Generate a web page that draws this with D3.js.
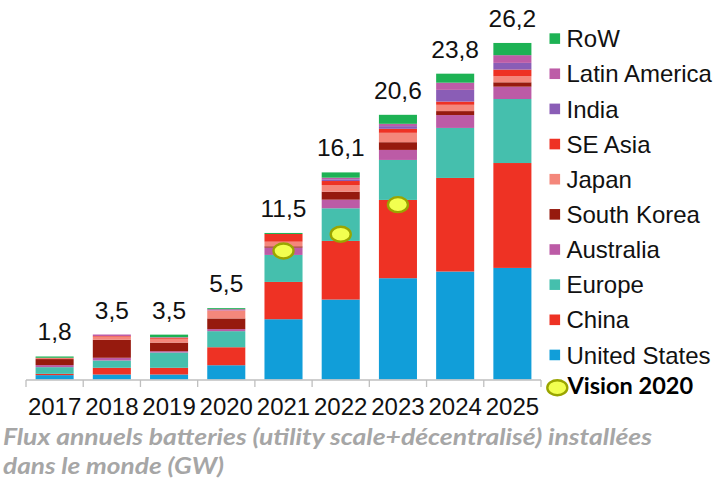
<!DOCTYPE html>
<html><head><meta charset="utf-8">
<script src="https://cdn.jsdelivr.net/npm/d3@7"></script>
<style>body{margin:0;background:#fff;}svg{display:block;}</style>
</head><body>
<svg id="chart" width="727" height="483"></svg>
<script>
const years = ["2017","2018","2019","2020","2021","2022","2023","2024","2025"];
const seriesNames = ["United States","China","Europe","Australia","South Korea","Japan","SE Asia","India","Latin America","RoW"];
const unitedStates = [0.34,0.39,0.39,1.11,4.69,6.22,7.88,8.40,8.68];
const china        = [0.10,0.52,0.52,1.40,2.90,4.56,6.09,7.28,8.16];
const europe       = [0.52,0.57,1.19,1.25,2.10,2.54,3.11,3.89,4.98];
const australia    = [0.16,0.21,0.10,0.16,0.57,0.67,0.78,1.00,0.96];
const southKorea   = [0.47,1.40,0.67,0.83,0.10,0.62,0.60,0.31,0.34];
const japan        = [0.05,0.24,0.30,0.62,0.36,0.52,0.73,0.49,0.47];
const seAsia       = [0.05,0.05,0.08,0.00,0.60,0.31,0.31,0.25,0.52];
const india        = [0.00,0.00,0.00,0.00,0.00,0.13,0.21,0.91,0.52];
const latinAmerica = [0.00,0.12,0.04,0.10,0.00,0.13,0.18,0.56,0.60];
const row          = [0.10,0.00,0.20,0.08,0.08,0.41,0.70,0.70,0.95];
const totalLabels  = ["1,8","3,5","3,5","5,5","11,5","16,1","20,6","23,8","26,2"];
const visionYears  = ["2021","2022","2023"];
const visionValues = [10.0,11.3,13.6];
const footnoteLines = ["Flux annuels batteries (utility scale+décentralisé) installées","dans le monde (GW)"];

const colors = ["#119ed9","#ee3224","#45bfad","#bc5ba6","#961a0e","#f4877b","#ee3224","#8a5db6","#bd5ca7","#1db254"];
const seriesValues = [unitedStates,china,europe,australia,southKorea,japan,seAsia,india,latinAmerica,row];

const table = years.map((y,i)=>{const o={year:y}; seriesNames.forEach((s,k)=>o[s]=seriesValues[k][i]); return o;});
const stacked = d3.stack().keys(seriesNames)(table);

const svg = d3.select("#chart");
const x = d3.scaleBand().domain(years).range([26,541]).paddingInner(0.335).paddingOuter(0.1675);
const y = d3.scaleLinear().domain([0,28]).range([379.5,379.5-28*12.855]);

// bars
svg.append("g").selectAll("g").data(stacked).join("g")
  .attr("fill",(d,i)=>colors[i])
  .selectAll("rect").data(d=>d).join("rect")
  .attr("x",d=>x(d.data.year))
  .attr("width",x.bandwidth())
  .attr("y",d=>y(d[1]))
  .attr("height",d=>Math.max(0,y(d[0])-y(d[1])));

// total labels
const tops = years.map((yr,i)=>d3.sum(seriesValues,s=>s[i]));
svg.append("g").selectAll("text").data(years).join("text")
  .attr("x",d=>x(d)+x.bandwidth()/2)
  .attr("y",(d,i)=>y(tops[i])-16)
  .attr("text-anchor","middle")
  .attr("font-family","Liberation Sans, Arial, sans-serif")
  .attr("font-size",24.5)
  .attr("fill","#111")
  .text((d,i)=>totalLabels[i]);

// vision 2020 markers
svg.append("g").selectAll("ellipse").data(visionYears).join("ellipse")
  .attr("cx",d=>x(d)+x.bandwidth()/2)
  .attr("cy",(d,i)=>y(visionValues[i]))
  .attr("rx",10).attr("ry",7.5)
  .attr("fill","#f2ff50").attr("stroke","#9aa500").attr("stroke-width",2.4);

// axis
const axisG = svg.append("g").attr("transform","translate(0,380)");
axisG.append("line").attr("x1",26).attr("x2",541).attr("stroke","#bfbfbf").attr("stroke-width",1.3);
const bounds = d3.range(years.length+1).map(i=>26+i*(515/years.length));
axisG.selectAll("line.tick").data(bounds).join("line").attr("class","tick")
  .attr("x1",d=>d).attr("x2",d=>d).attr("y1",0).attr("y2",7)
  .attr("stroke","#bfbfbf").attr("stroke-width",1.3);
axisG.selectAll("text").data(years).join("text")
  .attr("x",d=>x(d)+x.bandwidth()/2).attr("y",34.5)
  .attr("text-anchor","middle")
  .attr("font-family","Liberation Sans, Arial, sans-serif")
  .attr("font-size",24).attr("fill","#111")
  .text(d=>d);

// legend
const legendNames = seriesNames.slice().reverse();
const legendColors = colors.slice().reverse();
const lg = svg.append("g");
legendNames.forEach((n,i)=>{
  const cy = 38.6 + i*35.15;
  lg.append("rect").attr("x",549.5).attr("y",cy-5.3).attr("width",10.6).attr("height",10.6).attr("fill",legendColors[i]);
  lg.append("text").attr("x",566.5).attr("y",cy+8.6)
    .attr("font-family","Liberation Sans, Arial, sans-serif")
    .attr("font-size",24).attr("fill","#111").text(n);
});
lg.append("ellipse").attr("cx",557.3).attr("cy",387.7).attr("rx",10).attr("ry",7.5)
  .attr("fill","#f2ff50").attr("stroke","#9aa500").attr("stroke-width",2.4);
lg.append("text").attr("x",567.5).attr("y",393.5)
  .attr("font-family","Lato, sans-serif").attr("font-weight","bold")
  .attr("font-size",23.5).attr("fill","#000").text("Vision 2020");

// footnote
const footLengths = [649, 221];
svg.append("g").selectAll("text").data(footnoteLines).join("text")
  .attr("x",3).attr("y",(d,i)=>445+i*29)
  .attr("font-family","Lato, sans-serif").attr("font-weight","bold").attr("font-style","italic")
  .attr("font-size",23).attr("fill","#a6a6a6")
  .attr("textLength",(d,i)=>footLengths[i]).attr("lengthAdjust","spacingAndGlyphs")
  .text(d=>d);
</script>
</body></html>
